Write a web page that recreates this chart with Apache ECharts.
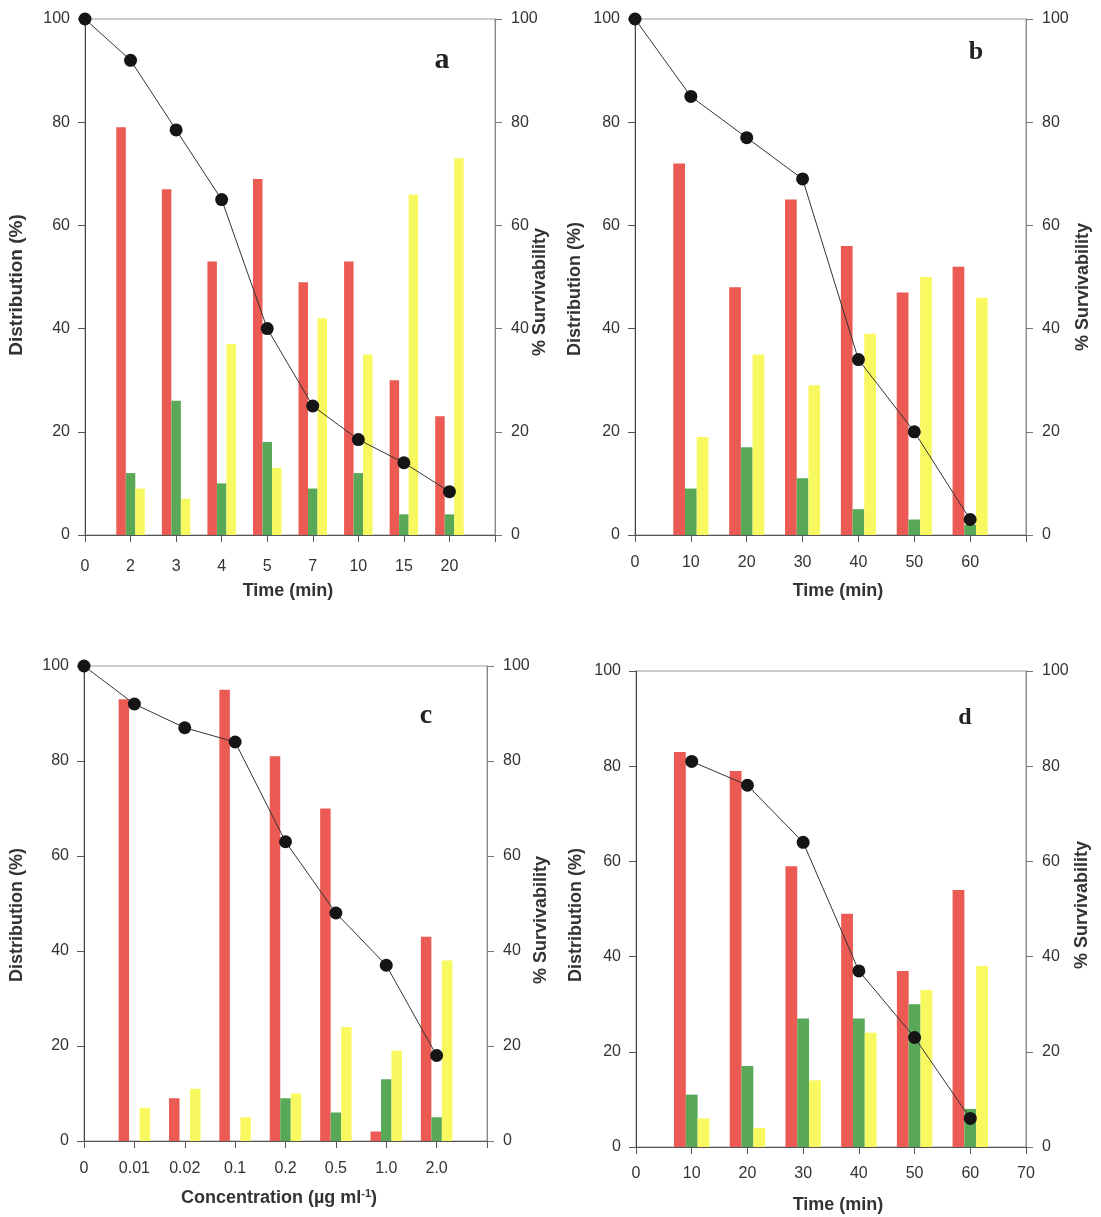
<!DOCTYPE html>
<html>
<head>
<meta charset="utf-8">
<script src="https://cdn.jsdelivr.net/npm/echarts@6/dist/echarts.min.js"></script>
<style>
  html, body { margin: 0; padding: 0; background: #ffffff; }
  #chart { width: 1101px; height: 1217px; }
</style>
</head>
<body>
<div id="chart"></div>
<script>
// ---- Panel a: exposure time (min) ----
const ticksA  = ['0', '2', '3', '4', '5', '7', '10', '15', '20', ''];
const redA    = [79, 67, 53, 69, 49, 53, 30, 23];
const greenA  = [12, 26, 10, 18, 9, 12, 4, 4];
const yellowA = [9, 7, 37, 13, 42, 35, 66, 73];
const survA   = [100, 92, 78.5, 65, 40, 25, 18.5, 14, 8.4];

// ---- Panel b: exposure time (min) ----
const ticksB  = ['0', '10', '20', '30', '40', '50', '60', ''];
const redB    = [72, 48, 65, 56, 47, 52];
const greenB  = [9, 17, 11, 5, 3, 2];
const yellowB = [19, 35, 29, 39, 50, 46];
const survB   = [100, 85, 77, 69, 34, 20, 3];

// ---- Panel c: concentration (µg/ml) ----
const ticksC  = ['0', '0.01', '0.02', '0.1', '0.2', '0.5', '1.0', '2.0', ''];
const redC    = [93, 9, 95, 81, 70, 2, 43];
const greenC  = [0, 0, 0, 9, 6, 13, 5];
const yellowC = [7, 11, 5, 10, 24, 19, 38];
const survC   = [100, 92, 87, 84, 63, 48, 37, 18];

// ---- Panel d: exposure time (min) ----
const ticksD  = ['0', '10', '20', '30', '40', '50', '60', '70'];
const redD    = [83, 79, 59, 49, 37, 54];
const greenD  = [11, 17, 27, 27, 30, 8];
const yellowD = [6, 4, 14, 24, 33, 38];
const survD   = [null, 81, 76, 64, 37, 23, 6];

const RED = '#ec5a54';
const GREEN = '#58a858';
const YELLOW = '#f8f860';

// place values on the category slots; slot 0 is the origin, the last slot the right edge
function slot(values, total) {
  const out = [null];
  values.forEach(v => out.push(v));
  while (out.length < total) out.push(null);
  return out;
}

const plainFont = '"Liberation Sans", Arial, sans-serif';

const panels = [
  { ticks: ticksA, red: redA, green: greenA, yellow: yellowA, surv: survA,
    grid: { left: 85, top: 19, width: 410, height: 516 }, barWidth: 9.5, xMargin: 24 },
  { ticks: ticksB, red: redB, green: greenB, yellow: yellowB, surv: survB,
    grid: { left: 635, top: 19, width: 391, height: 516 }, barWidth: 11.7, xMargin: 20 },
  { ticks: ticksC, red: redC, green: greenC, yellow: yellowC, surv: survC,
    grid: { left: 84, top: 666, width: 403, height: 475 }, barWidth: 10.5, xMargin: 20 },
  { ticks: ticksD, red: redD, green: greenD, yellow: yellowD, surv: survD,
    grid: { left: 636, top: 671, width: 390, height: 476 }, barWidth: 11.8, xMargin: 19 }
];

const grids = [], xAxes = [], yAxes = [], series = [];

panels.forEach((p, i) => {
  grids.push(Object.assign({ show: true, borderColor: '#9a9a9a', borderWidth: 1,
                             backgroundColor: 'transparent' }, p.grid));
  const labelStyle = { color: '#333', fontFamily: plainFont, fontSize: 16 };
  xAxes.push({
    gridIndex: i, type: 'category', data: p.ticks, boundaryGap: false,
    axisLine: { lineStyle: { color: '#555', width: 1 } },
    axisTick: { show: true, inside: false, length: 7, lineStyle: { color: '#555' } },
    axisLabel: Object.assign({ interval: 0, margin: p.xMargin }, labelStyle),
    splitLine: { show: false }
  });
  yAxes.push({
    gridIndex: i, type: 'value', position: 'left', min: 0, max: 100, interval: 20,
    axisLine: { show: true, lineStyle: { color: '#444', width: 1 } },
    axisTick: { show: true, length: 7, lineStyle: { color: '#555' } },
    axisLabel: Object.assign({ margin: 15 }, labelStyle),
    splitLine: { show: false }
  });
  yAxes.push({
    gridIndex: i, type: 'value', position: 'right', min: 0, max: 100, interval: 20,
    axisLine: { show: true, lineStyle: { color: '#888', width: 1 } },
    axisTick: { show: true, length: 7, lineStyle: { color: '#777' } },
    axisLabel: Object.assign({ margin: 16 }, labelStyle),
    splitLine: { show: false }
  });
  const n = p.ticks.length;
  [[p.red, RED], [p.green, GREEN], [p.yellow, YELLOW]].forEach(([vals, col]) => {
    series.push({
      type: 'bar', xAxisIndex: i, yAxisIndex: 2 * i,
      data: slot(vals, n), barWidth: p.barWidth, barGap: '0%',
      itemStyle: { color: col }, z: 2
    });
  });
  series.push({
    type: 'line', xAxisIndex: i, yAxisIndex: 2 * i + 1,
    data: p.surv, symbol: 'circle', symbolSize: 13, clip: false,
    lineStyle: { color: '#333', width: 1 },
    itemStyle: { color: '#151515' }, z: 5
  });
});

const nameFont = 'bold 18px "Liberation Sans", Arial, sans-serif';
function vText(x, y, text, size) {
  return { type: 'text', x: x, y: y, rotation: Math.PI / 2,
    style: { text: text, font: 'bold ' + size + 'px "Liberation Sans", Arial, sans-serif',
             fill: '#333', align: 'center', verticalAlign: 'middle' } };
}
function hText(x, y, text) {
  return { type: 'text', x: x, y: y,
    style: { text: text, font: nameFont, fill: '#333', align: 'center', verticalAlign: 'middle' } };
}
function letter(x, y, text, size) {
  return { type: 'text', x: x, y: y,
    style: { text: text, font: 'bold ' + size + 'px "Liberation Serif", "Times New Roman", serif',
             fill: '#222', align: 'center', verticalAlign: 'middle' } };
}

const graphic = [
  vText(17, 285, 'Distribution (%)', 19),
  vText(540, 292, '% Survivability', 18),
  hText(288, 591, 'Time (min)'),
  letter(442, 60, 'a', 30),

  vText(575, 289, 'Distribution (%)', 18),
  vText(1083, 287, '% Survivability', 18),
  hText(838, 591, 'Time (min)'),
  letter(976, 52, 'b', 26),

  vText(17, 915, 'Distribution (%)', 18),
  vText(541, 920, '% Survivability', 18),
  { type: 'text', x: 279, y: 1198,
    style: { text: 'Concentration (µg ml{sup|-1})', font: nameFont, fill: '#333',
             align: 'center', verticalAlign: 'middle',
             rich: { sup: { font: 'bold 11px "Liberation Sans", Arial, sans-serif',
                            fill: '#333', verticalAlign: 'top', padding: [0, 0, 9, 0] } } } },
  letter(426, 716, 'c', 28),

  vText(576, 915, 'Distribution (%)', 18),
  vText(1082, 905, '% Survivability', 18),
  hText(838, 1205, 'Time (min)'),
  letter(965, 718, 'd', 24)
];

const chart = echarts.init(document.getElementById('chart'), null, { renderer: 'canvas' });
chart.setOption({
  animation: false,
  backgroundColor: '#ffffff',
  grid: grids,
  xAxis: xAxes,
  yAxis: yAxes,
  series: series,
  graphic: graphic
});
</script>
</body>
</html>
